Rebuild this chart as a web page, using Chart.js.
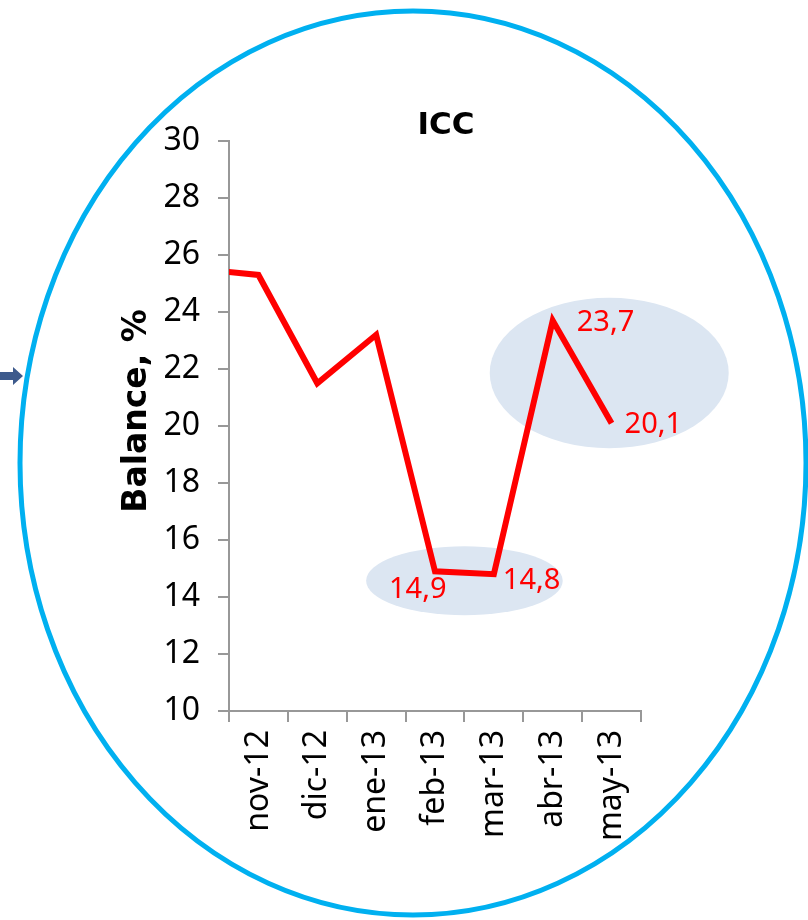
<!DOCTYPE html>
<html>
<head>
<meta charset="utf-8">
<script src="https://cdn.jsdelivr.net/npm/chart.js@4.4.1/dist/chart.umd.min.js"></script>
<style>
html,body{margin:0;padding:0;background:#fff;}
#wrap{width:808px;height:920px;position:relative;}
</style>
</head>
<body>
<div id="wrap"><canvas id="c" width="808" height="920"></canvas></div>
<script>
// ---- data ----
const categories = ['oct-12', 'nov-12', 'dic-12', 'ene-13', 'feb-13', 'mar-13', 'abr-13', 'may-13'];
const iccValues = [25.5, 25.3, 21.5, 23.2, 14.9, 14.8, 23.7, 20.1];
const firstShownCategory = 'nov-12';
const labelledCategories = ['feb-13', 'mar-13', 'abr-13', 'may-13'];
const yMin = 10, yMax = 30, yStep = 2;
const chartTitle = 'ICC';
const yAxisTitle = 'Balance, %';

// ---- styles ----
const FONT = '"Noto Sans", "Open Sans", sans-serif';
const BOLD_FONT = '"DejaVu Sans", "Open Sans", sans-serif';
const AXIS_COLOR = '#989898';
const LINE_COLOR = '#ff0000';

const fmt = v => v.toFixed(1).replace('.', ',');

const decorations = {
  id: 'decorations',
  beforeDraw(chart) {
    const ctx = chart.ctx;
    ctx.save();
    ctx.fillStyle = '#ffffff';
    ctx.fillRect(0, 0, chart.width, chart.height);
    ctx.restore();
  },
  beforeDatasetsDraw(chart) {
    const {ctx, scales: {x, y}} = chart;
    // highlight ellipses, given in data units (category index, value)
    const highlights = [
      {cx: 4.5, cy: 14.57, rx: 1.67, ry: 1.21},
      {cx: 6.96, cy: 21.86, rx: 2.03, ry: 2.64}
    ];
    ctx.save();
    ctx.fillStyle = '#dce6f2';
    highlights.forEach(h => {
      const px = x.getPixelForValue(h.cx);
      const py = y.getPixelForValue(h.cy);
      const prx = Math.abs(x.getPixelForValue(h.cx + h.rx) - px);
      const pry = Math.abs(y.getPixelForValue(h.cy + h.ry) - py);
      ctx.beginPath();
      ctx.ellipse(px, py, prx, pry, 0, 0, Math.PI * 2);
      ctx.fill();
    });
    ctx.restore();
  },
  afterDatasetsDraw(chart) {
    const {ctx, scales: {x, y}} = chart;
    const offsets = {'feb-13': [-46, 18], 'mar-13': [9, 7], 'abr-13': [24, 2], 'may-13': [13, 2]};
    ctx.save();
    ctx.fillStyle = LINE_COLOR;
    ctx.font = '29px ' + FONT;
    ctx.textAlign = 'left';
    ctx.textBaseline = 'middle';
    labelledCategories.forEach(cat => {
      const i = categories.indexOf(cat);
      const px = x.getPixelForValue(i);
      const py = y.getPixelForValue(iccValues[i]);
      const o = offsets[cat] || [8, 0];
      ctx.fillText(fmt(iccValues[i]), px + o[0], py + o[1]);
    });
    ctx.restore();
  },
  afterDraw(chart) {
    const ctx = chart.ctx;
    const area = chart.chartArea;
    ctx.save();
    // y-axis title
    ctx.translate(137, (area.top + area.bottom) / 2 - 15);
    ctx.rotate(-Math.PI / 2);
    ctx.fillStyle = '#000';
    ctx.font = 'bold 33px ' + BOLD_FONT;
    ctx.textAlign = 'center';
    ctx.textBaseline = 'middle';
    ctx.fillText(yAxisTitle, 0, 0);
    ctx.restore();

    // outer frame ellipse
    ctx.save();
    ctx.strokeStyle = '#00b0f0';
    ctx.lineWidth = 5;
    ctx.beginPath();
    ctx.ellipse(413, 463, 393, 452, 0, 0, Math.PI * 2);
    ctx.stroke();
    // small arrow on the left
    ctx.fillStyle = '#3d5a8c';
    ctx.beginPath();
    ctx.moveTo(0, 372); ctx.lineTo(13, 372); ctx.lineTo(13, 367);
    ctx.lineTo(23, 376); ctx.lineTo(13, 385); ctx.lineTo(13, 380);
    ctx.lineTo(0, 380); ctx.closePath();
    ctx.fill();
    ctx.restore();
  }
};

new Chart(document.getElementById('c'), {
  type: 'line',
  data: {
    labels: categories,
    datasets: [{
      label: chartTitle,
      data: iccValues,
      borderColor: LINE_COLOR,
      borderWidth: 6,
      pointRadius: 0,
      pointHoverRadius: 0,
      tension: 0,
      fill: false,
      clip: 0
    }]
  },
  options: {
    responsive: false,
    animation: false,
    events: [],
    layout: {padding: {left: 84, right: 0, top: 0, bottom: 0}},
    plugins: {
      legend: {display: false},
      tooltip: {enabled: false},
      title: {
        display: true,
        text: chartTitle,
        color: '#000',
        font: {family: BOLD_FONT, size: 31, weight: 'bold', lineHeight: 1},
        padding: {top: 110, bottom: 0}
      }
    },
    scales: {
      x: {
        type: 'category',
        min: firstShownCategory,
        offset: true,
        grid: {offset: true, drawOnChartArea: false, drawTicks: true, tickLength: 11, color: AXIS_COLOR, lineWidth: 2},
        border: {display: true, color: AXIS_COLOR, width: 2},
        ticks: {autoSkip: false, maxRotation: 90, minRotation: 90, padding: 8, color: '#000', font: {family: FONT, size: 32}},
        afterFit: s => { s.height = 209; }
      },
      y: {
        type: 'linear',
        position: 'left',
        min: yMin, max: yMax,
        grid: {drawOnChartArea: false, drawTicks: true, tickLength: 11, color: AXIS_COLOR, lineWidth: 2},
        border: {display: true, color: AXIS_COLOR, width: 2},
        ticks: {stepSize: yStep, padding: 18, color: '#000', font: {family: FONT, size: 32}},
        afterFit: s => { s.width = 145; }
      },
      y2: {
        type: 'linear',
        position: 'right',
        display: true,
        grid: {display: false, drawTicks: false},
        border: {display: false},
        ticks: {display: false},
        afterFit: s => { s.width = 167; }
      }
    }
  },
  plugins: [decorations]
});
</script>
</body>
</html>
